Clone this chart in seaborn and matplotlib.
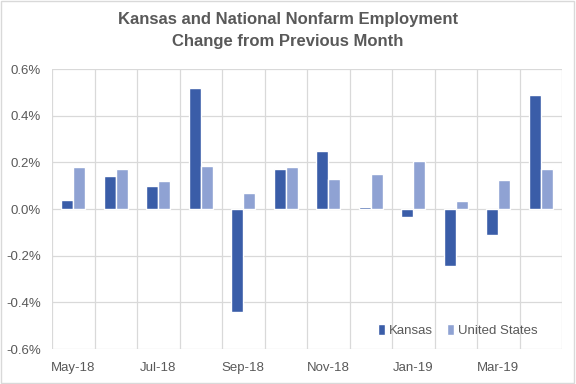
import matplotlib
matplotlib.use('Agg')
import matplotlib.pyplot as plt
import matplotlib.patches as mpatches
import seaborn as sns
import pandas as pd

months = ["May-18", "Jun-18", "Jul-18", "Aug-18", "Sep-18", "Oct-18",
          "Nov-18", "Dec-18", "Jan-19", "Feb-19", "Mar-19", "Apr-19"]
kansas = [0.04, 0.14, 0.10, 0.52, -0.44, 0.17, 0.25, 0.008, -0.035, -0.245, -0.11, 0.49]
united_states = [0.18, 0.17, 0.12, 0.185, 0.07, 0.18, 0.13, 0.15, 0.205, 0.035, 0.125, 0.17]

df = pd.DataFrame({
    "month": months * 2,
    "change": kansas + united_states,
    "area": ["Kansas"] * len(months) + ["United States"] * len(months),
})

sns.set_style("white")
plt.rcParams['font.family'] = ['Liberation Sans', 'DejaVu Sans']

gray = "#595959"
fig = plt.figure(figsize=(5.76, 3.84), dpi=100)
ax = fig.add_axes([0.0903, 0.091, 0.8854, 0.729])

sns.barplot(data=df, x="month", y="change", hue="area", order=months,
            palette=["#3a5da8", "#8fa2d3"], width=0.565, saturation=1,
            ax=ax, zorder=3)

ax.set_ylim(-0.6, 0.6)
ax.set_xlim(-0.5, len(months) - 0.5)
ax.set_yticks([-0.6, -0.4, -0.2, 0.0, 0.2, 0.4, 0.6])
ax.set_yticklabels([f"{v:.1f}%" for v in ax.get_yticks()], color=gray, fontsize=9.5)
ax.set_xticks(range(0, len(months), 2))
ax.set_xticklabels(months[::2], color=gray, fontsize=9.5)
ax.tick_params(axis="y", length=0, pad=8)
ax.tick_params(axis="x", length=0, pad=9)
ax.set_xlabel("")
ax.set_ylabel("")

# gridlines: horizontal at y ticks, vertical at category boundaries
for y in ax.get_yticks():
    ax.axhline(y, color="#d9d9d9", lw=0.9, zorder=1)
for i in range(len(months) + 1):
    ax.axvline(i - 0.5, color="#d9d9d9", lw=0.9, zorder=1)
for s in ax.spines.values():
    s.set_visible(False)

leg = ax.legend(loc="lower right", bbox_to_anchor=(0.975, 0.0), frameon=False,
                ncol=2, fontsize=9.5, handlelength=0.55, handleheight=0.9,
                handletextpad=0.3, columnspacing=1.0)
for t in leg.get_texts():
    t.set_color(gray)

fig.suptitle("Kansas and National Nonfarm Employment\nChange from Previous Month",
             x=0.5, y=0.97, fontsize=12, fontweight="bold", color=gray,
             linespacing=1.6)

fig.patches.append(mpatches.Rectangle((0.002, 0.003), 0.995, 0.994, transform=fig.transFigure,
                                      fill=False, edgecolor="#d9d9d9", lw=1))

fig.savefig("out.png", dpi=100)
